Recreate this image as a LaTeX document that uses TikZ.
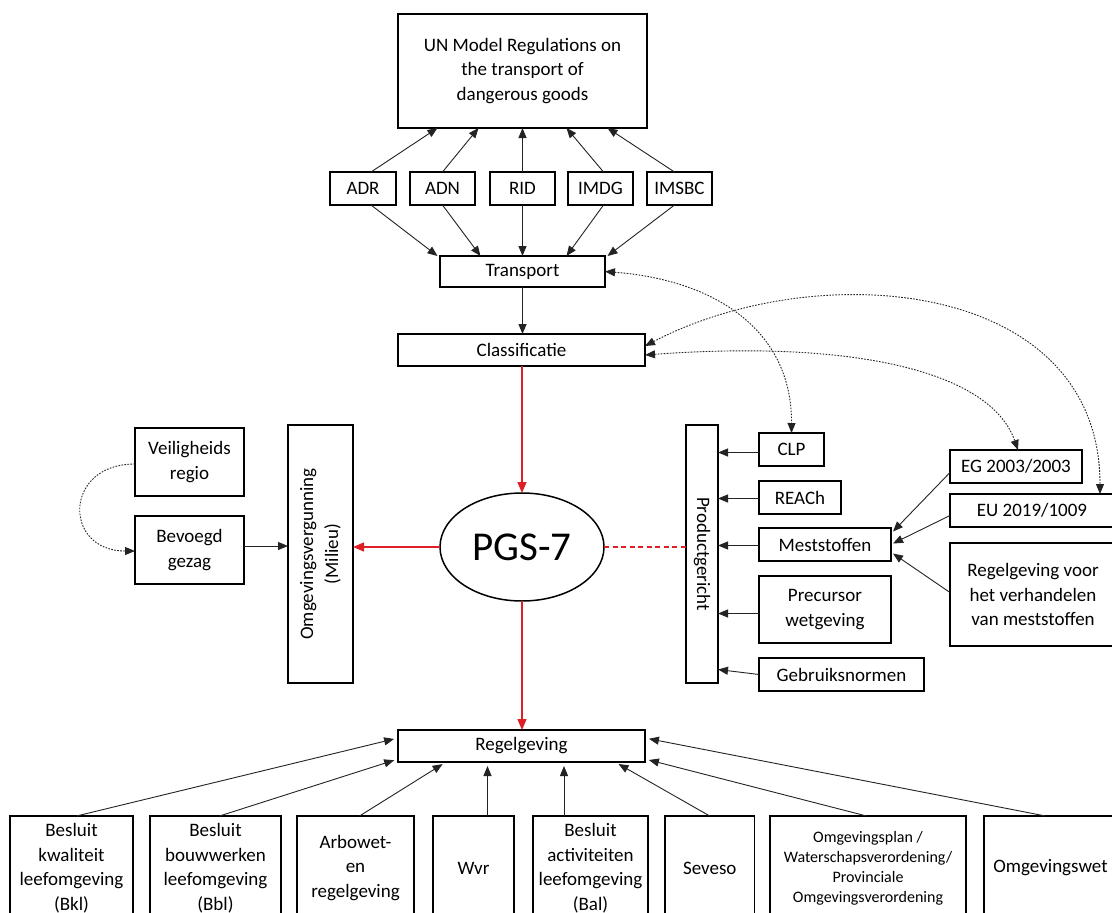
\documentclass[tikz,border=0pt]{standalone}
\usepackage{fontspec}
\setmainfont{Carlito}
\usetikzlibrary{arrows.meta,shapes.geometric}
\definecolor{redc}{RGB}{222,32,38}
\definecolor{linec}{RGB}{35,35,35}
\begin{document}
\begin{tikzpicture}[x=1pt,y=-1pt,
  box/.style={draw=black,line width=1.5pt,inner sep=0pt,outer sep=0pt,align=center,font=\fontsize{19}{24.5}\selectfont},
  smallbox/.style={box,font=\fontsize{16}{20}\selectfont},
  rtext/.style={inner sep=0pt,align=center,font=\fontsize{19}{25}\selectfont},
  conn/.style={draw=linec,line width=0.9pt,-{Triangle[length=10pt,width=8pt]}},
  dconn/.style={draw=linec,line width=0.9pt,dash pattern=on 1.6pt off 1.4pt,{Triangle[length=10pt,width=8pt]}-{Triangle[length=10pt,width=8pt]}},
  dsingle/.style={draw=linec,line width=0.9pt,dash pattern=on 1.6pt off 1.4pt,-{Triangle[length=10pt,width=8pt]}},
  redarrow/.style={draw=redc,line width=1.4pt,-{Triangle[length=11pt,width=9pt]}},
  reddash/.style={draw=redc,line width=1.4pt,dash pattern=on 5pt off 3.5pt}
]
\useasboundingbox (0,0) rectangle (1112,913);
\fill[white] (0,0) rectangle (1112,913);
\clip (0,0) rectangle (1112,913);

% top
\node[box,minimum width=249,minimum height=114] (UN) at (522.5,71) {UN Model Regulations on\\the transport of\\dangerous goods};
\node[box,minimum width=66,minimum height=33] (ADR) at (363,188.5) {ADR};
\node[box,minimum width=65,minimum height=33] (ADN) at (442.5,188.5) {ADN};
\node[box,minimum width=65,minimum height=33] (RID) at (522.5,188.5) {RID};
\node[box,minimum width=65,minimum height=33] (IMDG) at (600.5,188.5) {IMDG};
\node[box,minimum width=65,minimum height=33] (IMSBC) at (679.5,188.5) {IMSBC};
\node[box,minimum width=165,minimum height=31] (TR) at (522.5,271.5) {Transport};
\node[box,minimum width=247,minimum height=32] (CL) at (521.5,350) {Classificatie};

% centre
\node[ellipse,draw=black,line width=1.5pt,minimum width=164,minimum height=108,inner sep=0pt,outer sep=0pt,font=\fontsize{41}{45}\selectfont] (PGS) at (522,547) {PGS-7};

% left
\node[box,minimum width=109,minimum height=68] (VR) at (189.5,462) {Veiligheids\\regio};
\node[box,minimum width=109,minimum height=68] (BG) at (189.5,550) {Bevoegd\\gezag};
\node[box,minimum width=65,minimum height=258] (OV) at (320.5,554) {};
\node[rtext,rotate=90] (OVt) at (OV.center) {Omgevingsvergunning\\(Milieu)};

% right
\node[box,minimum width=32,minimum height=258] (PR) at (702,554) {};
\node[rtext,rotate=-90] (PRt) at (PR.center) {Productgericht};
\node[box,minimum width=65,minimum height=33] (CLP) at (791.5,449.5) {CLP};
\node[box,minimum width=82,minimum height=33] (REACH) at (800,497.5) {REACh};
\node[box,minimum width=132,minimum height=33] (MS) at (825,544.5) {Meststoffen};
\node[box,minimum width=132,minimum height=67] (PC) at (825,609.5) {Precursor\\wetgeving};
\node[box,minimum width=165,minimum height=33] (GN) at (841.5,674.5) {Gebruiksnormen};
\node[box,minimum width=132,minimum height=33] (EG) at (1016,466.5) {EG 2003/2003};
\node[box,minimum width=164,minimum height=33] (EU) at (1032,510.5) {EU 2019/1009};
\node[box,minimum width=166,minimum height=103] (RV) at (1033,594.5) {Regelgeving voor\\het verhandelen\\van meststoffen};

% bottom
\node[box,minimum width=247,minimum height=32] (RG) at (521.5,746) {Regelgeving};
\node[box,minimum width=123,minimum height=104] (BKL) at (71.5,868) {Besluit\\kwaliteit\\leefomgeving\\(Bkl)};
\node[box,minimum width=131,minimum height=104] (BBL) at (215.5,868) {Besluit\\bouwwerken\\leefomgeving\\(Bbl)};
\node[box,minimum width=117,minimum height=104] (ARB) at (355.5,868) {Arbowet-\\en\\regelgeving};
\node[box,minimum width=81,minimum height=104] (WVR) at (473.5,868) {Wvr};
\node[box,minimum width=115,minimum height=104] (BAL) at (590.5,868) {Besluit\\activiteiten\\leefomgeving\\(Bal)};
\node[box,minimum width=89.5,minimum height=104] (SEV) at (709.75,868) {Seveso};
\node[smallbox,minimum width=196,minimum height=104] (OP) at (868,868) {Omgevingsplan /\\Waterschapsverordening/\\Provinciale\\Omgevingsverordening};
\node[box,minimum width=133,minimum height=104] (OW) at (1050.5,868) {Omgevingswet};

% transport arrows
\draw[conn] ([xshift=8pt]ADR.north) -- ([xshift=-85pt]UN.south);
\draw[conn] (ADN.north) -- ([xshift=-44pt]UN.south);
\draw[conn] (RID.north) -- (UN.south);
\draw[conn] ([xshift=3pt]IMDG.north) -- ([xshift=44pt]UN.south);
\draw[conn] ([xshift=-5pt]IMSBC.north) -- ([xshift=85pt]UN.south);
\draw[conn] ([xshift=8pt]ADR.south) -- ([xshift=-85pt]TR.north);
\draw[conn] (ADN.south) -- ([xshift=-42pt]TR.north);
\draw[conn] (RID.south) -- (TR.north);
\draw[conn] ([xshift=3pt]IMDG.south) -- ([xshift=44pt]TR.north);
\draw[conn] ([xshift=-5pt]IMSBC.south) -- ([xshift=85pt]TR.north);
\draw[conn] (TR.south) -- ([xshift=1pt]CL.north);

% dotted curves
\draw[dconn] (TR.east) .. controls (715,280) and (792,330) .. (CLP.north);
\draw[dconn] ([yshift=4pt]CL.east) .. controls (820,255) and (1100,280) .. ([xshift=68pt]EU.north);
\draw[dconn] ([yshift=-5pt]CL.east) .. controls (850,340) and (990,370) .. ([xshift=2pt]EG.north);
\draw[dsingle] ([yshift=-2pt]VR.west) .. controls (63,464) and (63,551) .. ([yshift=-1pt]BG.west);

% red
\draw[redarrow] ([xshift=0.5pt]CL.south) -- (PGS.north);
\draw[redarrow] (PGS.west) -- (PGS.west -| OV.east);
\draw[redarrow] (PGS.south) -- ([xshift=0.5pt]RG.north);
\draw[reddash] (PGS.east) -- (PGS.east -| PR.west);

% left
\draw[conn] ([yshift=4pt]BG.east) -- ([yshift=4pt]BG.east -| OV.west);

% right
\draw[conn] ([yshift=-3pt]CLP.west) -- ([yshift=-3pt]CLP.west -| PR.east);
\draw[conn] ([yshift=-1pt]REACH.west) -- ([yshift=-1pt]REACH.west -| PR.east);
\draw[conn] ([yshift=-1pt]MS.west) -- ([yshift=-1pt]MS.west -| PR.east);
\draw[conn] ([yshift=-4pt]PC.west) -- ([yshift=-4pt]PC.west -| PR.east);
\draw[conn] (GN.west) -- ([yshift=5pt]GN.west -| PR.east);
\draw[conn] ([yshift=-6pt]EG.west) -- ([xshift=2pt,yshift=13pt]MS.east);
\draw[conn] ([yshift=-5pt]EU.west) -- ([xshift=2pt,yshift=1pt]MS.east);
\draw[conn] ([yshift=2pt]RV.west) -- ([xshift=2pt,yshift=-9pt]MS.east);

% bottom
\draw[conn,shorten >=4pt] ([xshift=5pt]BKL.north) -- ([yshift=8pt]RG.west);
\draw[conn,shorten >=4pt] ([xshift=4pt]BBL.north) -- ([yshift=-13pt]RG.west);
\draw[conn,shorten >=4pt] ([xshift=4pt]ARB.north) -- ([xshift=-75.5pt]RG.south);
\draw[conn,shorten >=4pt] ([xshift=14pt]WVR.north) -- ([xshift=-34pt]RG.south);
\draw[conn,shorten >=4pt] ([xshift=-26.5pt]BAL.north) -- ([xshift=42.5pt]RG.south);
\draw[conn,shorten >=4pt] (SEV.north) -- ([xshift=93.5pt]RG.south);
\draw[conn,shorten >=4pt] ([xshift=-1.5pt]OP.north) -- ([yshift=-13pt]RG.east);
\draw[conn,shorten >=4pt] ([xshift=-5pt]OW.north) -- ([yshift=8pt]RG.east);
\end{tikzpicture}
\end{document}
